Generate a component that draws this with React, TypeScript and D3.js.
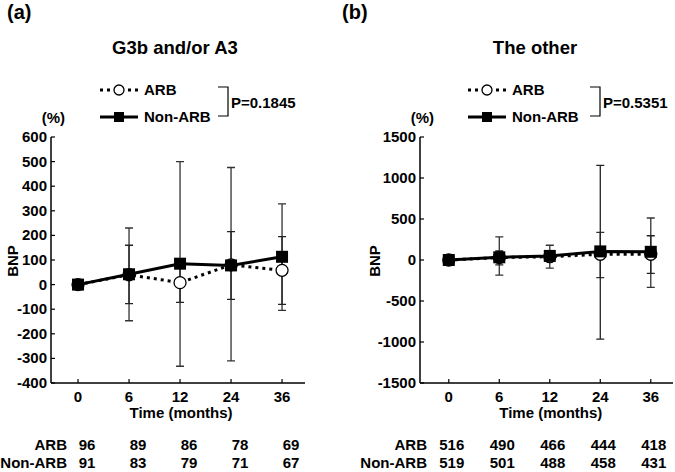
import { useEffect, useRef } from 'react';
import * as d3 from 'd3';

const months = ["0", "6", "12", "24", "36"];

// panel (a) G3b and/or A3
const arbA = [0, 40, 8, 80, 58];
const nonArbA = [0, 42, 85, 78, 113];
const arbUpA = [0, 160, 86, 215, 195];
const arbLoA = [0, -77, -72, -60, -80];
const nonArbUpA = [0, 230, 500, 476, 328];
const nonArbLoA = [0, -147, -332, -310, -105];
const arbNA = [96, 89, 86, 78, 69];
const nonArbNA = [91, 83, 79, 71, 67];
const yTicksA = [600, 500, 400, 300, 200, 100, 0, -100, -200, -300, -400];

// panel (b) The other
const arbB = [0, 30, 40, 70, 70];
const nonArbB = [0, 33, 50, 105, 100];
const arbUpB = [0, 110, 0, 1155, 296];
const arbLoB = [0, -60, 0, -965, -162];
const nonArbUpB = [0, 283, 180, 336, 512];
const nonArbLoB = [0, -185, -100, -216, -335];
const arbNB = [516, 490, 466, 444, 418];
const nonArbNB = [519, 501, 488, 458, 431];
const yTicksB = [1500, 1000, 500, 0, -500, -1000, -1500];

type Panel = {
  tag: string; title: string; titleX: number; pval: string;
  x0: number; x1: number; xDom: [number, number];
  yDom: [number, number]; yTicks: number[];
  arb: number[]; nonArb: number[];
  arbUp: number[]; arbLo: number[]; nonArbUp: number[]; nonArbLo: number[];
  arbN: number[]; nonArbN: number[]; nDx: number;
  legX: number; brX: number; bnpX: number;
};

const panels: Panel[] = [
  {
    tag: "(a)", title: "G3b and/or A3", titleX: 175, pval: "P=0.1845",
    x0: 51, x1: 305, xDom: [-0.53, 4.45],
    yDom: [-400, 600], yTicks: yTicksA,
    arb: arbA, nonArb: nonArbA, arbUp: arbUpA, arbLo: arbLoA, nonArbUp: nonArbUpA, nonArbLo: nonArbLoA,
    arbN: arbNA, nonArbN: nonArbNA, nDx: 9,
    legX: 100, brX: 218, bnpX: 13,
  },
  {
    tag: "(b)", title: "The other", titleX: 535, pval: "P=0.5351",
    x0: 420, x1: 673, xDom: [-0.57, 4.44],
    yDom: [-1500, 1500], yTicks: yTicksB,
    arb: arbB, nonArb: nonArbB, arbUp: arbUpB, arbLo: arbLoB, nonArbUp: nonArbUpB, nonArbLo: nonArbLoB,
    arbN: arbNB, nonArbN: nonArbNB, nDx: 3,
    legX: 468, brX: 590, bnpX: 375,
  },
];

export default function App() {
  const svgRef = useRef<SVGSVGElement>(null);

  useEffect(() => {
    if (!svgRef.current) return;
    document.body.style.margin = "0";
    const svg = d3.select(svgRef.current);
    svg.selectAll("*").remove();
    svg.attr("width", 675).attr("height", 472)
      .style("font-family", "'Liberation Sans', Arial, sans-serif")
      .style("font-weight", "bold");

    const top = 137, bottom = 383;
    const fs = 15;

    panels.forEach((p, pi) => {
      const g = svg.append("g");
      const x = d3.scaleLinear().domain(p.xDom).range([p.x0, p.x1]);
      const y = d3.scaleLinear().domain(p.yDom).range([bottom, top]);

      // labels
      g.append("text").attr("x", pi === 0 ? 7 : 342).attr("y", 19)
        .attr("font-size", 20).text(p.tag);
      g.append("text").attr("x", p.titleX).attr("y", 54)
        .attr("text-anchor", "middle").attr("font-size", 18.5).text(p.title);
      g.append("text").attr("x", p.x0 + 14).attr("y", 123)
        .attr("text-anchor", "end").attr("font-size", fs).text("(%)");
      g.append("text")
        .attr("transform", `translate(${p.bnpX + 5},${(top + bottom) / 2 + 1}) rotate(-90)`)
        .attr("text-anchor", "middle").attr("font-size", fs).text("BNP");

      // legend
      const ly1 = 90, ly2 = 117;
      g.append("line").attr("x1", p.legX).attr("x2", p.legX + 38).attr("y1", ly1).attr("y2", ly1)
        .attr("stroke", "#000").attr("stroke-width", 3).attr("stroke-dasharray", "3,4");
      g.append("circle").attr("cx", p.legX + 19).attr("cy", ly1).attr("r", 5)
        .attr("fill", "#fff").attr("stroke", "#000").attr("stroke-width", 1.3);
      g.append("text").attr("x", p.legX + 44).attr("y", ly1 + 5).attr("font-size", fs).text("ARB");
      g.append("line").attr("x1", p.legX).attr("x2", p.legX + 38).attr("y1", ly2).attr("y2", ly2)
        .attr("stroke", "#000").attr("stroke-width", 3);
      g.append("rect").attr("x", p.legX + 14).attr("y", ly2 - 5).attr("width", 10).attr("height", 10)
        .attr("fill", "#000");
      g.append("text").attr("x", p.legX + 44).attr("y", ly2 + 5).attr("font-size", fs).text("Non-ARB");
      g.append("path")
        .attr("d", `M${p.brX},87H${p.brX + 10}V116H${p.brX}`)
        .attr("fill", "none").attr("stroke", "#000").attr("stroke-width", 1.2);
      g.append("text").attr("x", p.brX + 13).attr("y", 108).attr("font-size", fs).text(p.pval);

      // axes
      g.append("line").attr("x1", p.x0).attr("x2", p.x0).attr("y1", top).attr("y2", bottom)
        .attr("stroke", "#000").attr("stroke-width", 1.5);
      g.append("line").attr("x1", p.x0).attr("x2", p.x1).attr("y1", bottom).attr("y2", bottom)
        .attr("stroke", "#000").attr("stroke-width", 1.5);
      p.yTicks.forEach(t => {
        g.append("line").attr("x1", p.x0).attr("x2", p.x0 + 4).attr("y1", y(t)).attr("y2", y(t))
          .attr("stroke", "#000").attr("stroke-width", 1.2);
        g.append("text").attr("x", p.x0 - 4).attr("y", y(t) + 5)
          .attr("text-anchor", "end").attr("font-size", fs).text(t);
      });
      months.forEach((m, i) => {
        g.append("line").attr("x1", x(i)).attr("x2", x(i)).attr("y1", bottom).attr("y2", bottom - 4)
          .attr("stroke", "#000").attr("stroke-width", 1.2);
        g.append("text").attr("x", x(i)).attr("y", bottom + 19)
          .attr("text-anchor", "middle").attr("font-size", fs).text(m);
        g.append("text").attr("x", x(i) + p.nDx).attr("y", 450)
          .attr("text-anchor", "middle").attr("font-size", fs).text(p.arbN[i]);
        g.append("text").attr("x", x(i) + p.nDx).attr("y", 468)
          .attr("text-anchor", "middle").attr("font-size", fs).text(p.nonArbN[i]);
      });
      g.append("text").attr("x", (x(1) + x(3)) / 2 + 1).attr("y", 418)
        .attr("text-anchor", "middle").attr("font-size", fs).text("Time (months)");
      const rowX = pi === 0 ? 67 : 427;
      g.append("text").attr("x", rowX).attr("y", 450).attr("text-anchor", "end")
        .attr("font-size", fs).text("ARB");
      g.append("text").attr("x", rowX).attr("y", 468).attr("text-anchor", "end")
        .attr("font-size", fs).text("Non-ARB");

      // error bars
      const bars = (up: number[], lo: number[], color: string) => {
        up.forEach((u, i) => {
          if (i === 0 || (u === 0 && lo[i] === 0)) return;
          const cx = x(i);
          g.append("path")
            .attr("d", `M${cx},${y(u)}V${y(lo[i])}M${cx - 4},${y(u)}H${cx + 4}M${cx - 4},${y(lo[i])}H${cx + 4}`)
            .attr("fill", "none").attr("stroke", color).attr("stroke-width", 1.3);
        });
      };
      bars(p.nonArbUp, p.nonArbLo, "#333");
      bars(p.arbUp, p.arbLo, "#222");

      const line = d3.line<number>().x((_, i) => x(i)).y(d => y(d));
      g.append("path").datum(p.arb).attr("d", line).attr("fill", "none")
        .attr("stroke", "#000").attr("stroke-width", 3).attr("stroke-dasharray", "3,4");
      g.append("path").datum(p.nonArb).attr("d", line).attr("fill", "none")
        .attr("stroke", "#000").attr("stroke-width", 3);
      g.selectAll(".arbdot").data(p.arb).enter().append("circle")
        .attr("cx", (_, i) => x(i)).attr("cy", d => y(d)).attr("r", 6)
        .attr("fill", "#fff").attr("stroke", "#000").attr("stroke-width", 1.3);
      g.selectAll(".nadot").data(p.nonArb).enter().append("rect")
        .attr("x", (_, i) => x(i) - 6).attr("y", d => y(d) - 6)
        .attr("width", 12).attr("height", 12).attr("fill", "#000");
    });
  }, []);

  return <svg ref={svgRef} style={{ display: "block" }}></svg>;
}
